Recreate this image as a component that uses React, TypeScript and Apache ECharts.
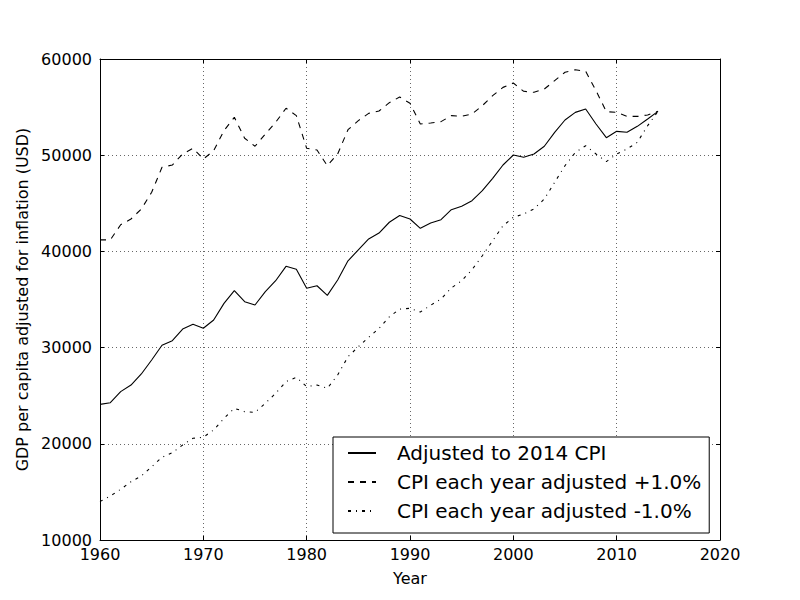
import React, { useEffect, useRef } from "react";
import * as echarts from "echarts";

const years = [
  1960, 1961, 1962, 1963, 1964, 1965, 1966, 1967, 1968, 1969,
  1970, 1971, 1972, 1973, 1974, 1975, 1976, 1977, 1978, 1979,
  1980, 1981, 1982, 1983, 1984, 1985, 1986, 1987, 1988, 1989,
  1990, 1991, 1992, 1993, 1994, 1995, 1996, 1997, 1998, 1999,
  2000, 2001, 2002, 2003, 2004, 2005, 2006, 2007, 2008, 2009,
  2010, 2011, 2012, 2013, 2014,
];

const adjusted2014 = [
  24100, 24270, 25420, 26110, 27260, 28710, 30240, 30720, 31930, 32420,
  32010, 32870, 34600, 35920, 34770, 34430, 35810, 36950, 38450, 38140,
  36160, 36430, 35430, 37030, 39020, 40160, 41290, 41910, 43030, 43730,
  43370, 42400, 42950, 43300, 44340, 44690, 45270, 46310, 47600, 48980,
  50020, 49780, 50130, 50930, 52380, 53660, 54450, 54800, 53240, 51820,
  52480, 52380, 53000, 53760, 54560,
];

const adjustedPlus1 = [
  41200, 41200, 42770, 43370, 44410, 46140, 48740, 48980, 50130, 50720,
  49600, 50470, 52550, 53940, 51760, 50930, 52200, 53420, 54880, 54110,
  50720, 50540, 48910, 50130, 52650, 53590, 54350, 54590, 55460, 56050,
  55400, 53240, 53350, 53490, 54110, 54040, 54280, 55150, 56190, 57050,
  57500, 56640, 56540, 56880, 57750, 58620, 58890, 58720, 56710, 54530,
  54450, 54040, 54040, 54180, 54560,
];

const adjustedMinus1 = [
  14000, 14570, 15270, 16060, 16650, 17620, 18600, 19080, 19880, 20570,
  20680, 21440, 22650, 23690, 23340, 23270, 24210, 25250, 26460, 26910,
  25940, 26110, 25770, 27150, 29050, 30090, 31070, 32000, 33200, 34000,
  34080, 33700, 34400, 35050, 36200, 36950, 38100, 39550, 41110, 42670,
  43540, 43890, 44410, 45450, 47180, 48910, 50290, 50990, 50130, 49330,
  50130, 50640, 51340, 53070, 54560,
];

const seriesNames = [
  "Adjusted to 2014 CPI",
  "CPI each year adjusted +1.0%",
  "CPI each year adjusted -1.0%",
];

const xLabelTicks = [1960, 1970, 1980, 1990, 2000, 2010, 2020];
const yLabelTicks = [10000, 20000, 30000, 40000, 50000, 60000];

const FONT = "DejaVu Sans";

export default function App() {
  const ref = useRef<HTMLDivElement>(null);

  useEffect(() => {
    if (!ref.current) return;
    const chart = echarts.init(ref.current, undefined, { renderer: "svg" });

    const pairs = (vals: number[]) => years.map((y, i) => [y, vals[i]]);
    const lineStyles: any[] = [
      { color: "#000", width: 1.1, type: "solid" },
      { color: "#000", width: 1.1, type: [6, 6] },
      { color: "#000", width: 1.1, type: [3, 5, 1, 5] },
    ];
    const values = [adjusted2014, adjustedPlus1, adjustedMinus1];

    const xMin = xLabelTicks[0];
    const xMax = xLabelTicks[xLabelTicks.length - 1];
    const yMin = yLabelTicks[0];
    const yMax = yLabelTicks[yLabelTicks.length - 1];

    const baseAxisLine = { show: true, lineStyle: { color: "#000", width: 1 } };
    const tick = { show: true, inside: true, length: 4, lineStyle: { color: "#000", width: 1 } };
    const grid = { show: true, lineStyle: { color: "#000", width: 0.6, type: [1, 3] } };
    const plain = (v: number) => String(v);

    chart.setOption({
      animation: false,
      backgroundColor: "#fff",
      grid: { left: 100, right: 80, top: 59, bottom: 60, containLabel: false },
      legend: {
        orient: "vertical",
        left: 333,
        top: 437,
        data: seriesNames,
        itemWidth: 28,
        itemHeight: 14,
        itemGap: 5,
        padding: [4, 8, 10, 14],
        borderColor: "#000",
        borderWidth: 1,
        borderRadius: 0,
        backgroundColor: "#fff",
        itemStyle: { color: "rgba(0,0,0,0)", borderWidth: 0, opacity: 0 },
        textStyle: {
          fontFamily: FONT,
          fontSize: 20,
          color: "#000",
          lineHeight: 24,
          padding: [0, 0, 0, 16],
        },
      },
      xAxis: [
        {
          type: "value",
          min: xMin,
          max: xMax,
          interval: 10,
          position: "bottom",
          name: "Year",
          nameLocation: "middle",
          nameGap: 30,
          nameTextStyle: { fontFamily: FONT, fontSize: 16, color: "#000" },
          axisLine: baseAxisLine,
          axisTick: tick,
          axisLabel: { fontFamily: FONT, fontSize: 16, color: "#000", margin: 6, formatter: plain },
          splitLine: grid,
        },
        {
          type: "value",
          min: xMin,
          max: xMax,
          interval: 10,
          position: "top",
          axisLine: baseAxisLine,
          axisTick: tick,
          axisLabel: { show: false },
          splitLine: { show: false },
        },
      ],
      yAxis: [
        {
          type: "value",
          min: yMin,
          max: yMax,
          interval: 10000,
          position: "left",
          name: "GDP per capita adjusted for inflation (USD)",
          nameLocation: "middle",
          nameRotate: 90,
          nameGap: 60,
          nameTextStyle: { fontFamily: FONT, fontSize: 16, color: "#000" },
          axisLine: baseAxisLine,
          axisTick: tick,
          axisLabel: { fontFamily: FONT, fontSize: 16, color: "#000", margin: 8, formatter: plain },
          splitLine: grid,
        },
        {
          type: "value",
          min: yMin,
          max: yMax,
          interval: 10000,
          position: "right",
          axisLine: baseAxisLine,
          axisTick: tick,
          axisLabel: { show: false },
          splitLine: { show: false },
        },
      ],
      series: seriesNames.map((name, i) => ({
        name,
        type: "line",
        xAxisIndex: 0,
        yAxisIndex: 0,
        data: pairs(values[i]),
        symbol: "none",
        showSymbol: false,
        lineStyle: lineStyles[i],
        itemStyle: { color: "#000" },
        color: "#000",
      })),
    });

    return () => chart.dispose();
  }, []);

  return <div ref={ref} style={{ width: 800, height: 600, position: "absolute", left: 0, top: 0 }} />;
}
